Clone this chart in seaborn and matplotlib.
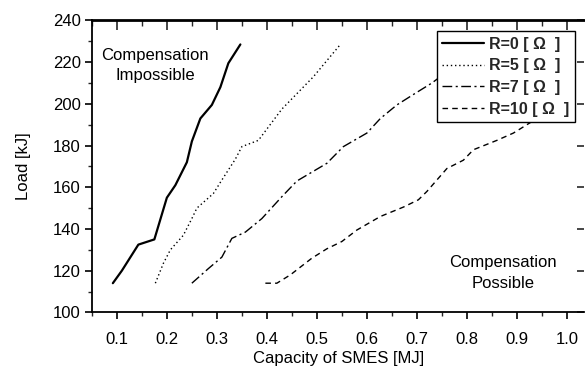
import matplotlib
matplotlib.use("Agg")
import matplotlib.pyplot as plt
import seaborn as sns
import pandas as pd
from matplotlib.ticker import MultipleLocator

sns.set_theme(style="white")
plt.rcParams['font.family'] = ['Liberation Sans', 'DejaVu Sans']

# ---- data ----
r0_x = [0.092, 0.11, 0.143, 0.175, 0.2, 0.217, 0.24, 0.25, 0.267, 0.29, 0.307, 0.323, 0.347]
r0_y = [114, 120, 132.5, 135, 155, 161, 172, 182, 193, 199.5, 208, 219.5, 228.5]
r5_x = [0.177, 0.193, 0.207, 0.233, 0.25, 0.26, 0.293, 0.31, 0.337, 0.35, 0.383, 0.43, 0.493, 0.547]
r5_y = [114, 123.5, 130, 137, 145, 150, 157, 163.5, 173.5, 179.5, 182.5, 197.5, 213, 228.5]
r7_x = [0.25, 0.283, 0.31, 0.33, 0.357, 0.39, 0.43, 0.46, 0.52, 0.553, 0.6, 0.627, 0.66, 0.693, 0.73, 0.78, 0.83]
r7_y = [114, 121, 126.5, 135.5, 138.5, 145, 155.5, 163, 171.5, 179.5, 186, 193, 199.5, 204.5, 210, 219, 228]
r10_x = [0.397, 0.42, 0.447, 0.49, 0.52, 0.55, 0.58, 0.627, 0.673, 0.703, 0.72, 0.76, 0.793, 0.813, 0.86, 0.893, 0.93, 0.98]
r10_y = [114, 114, 118, 126, 130.5, 134, 139.5, 146, 150.5, 154, 158, 169, 173, 178, 182.5, 186, 191.5, 199]
labels = ["R=0 [ \u03a9  ]", "R=5 [ \u03a9  ]", "R=7 [ \u03a9  ]", "R=10 [ \u03a9  ]"]
x_ticks = [0.1, 0.2, 0.3, 0.4, 0.5, 0.6, 0.7, 0.8, 0.9, 1.0]
y_ticks = [100, 120, 140, 160, 180, 200, 220, 240]

series = [(r0_x, r0_y), (r5_x, r5_y), (r7_x, r7_y), (r10_x, r10_y)]
styles = [
    dict(lw=1.6, dashes=None),
    dict(lw=1.0, dashes=(1, 2)),
    dict(lw=1.0, dashes=(7, 2.5, 1.5, 2.5)),
    dict(lw=1.0, dashes=(4, 3)),
]

fig = plt.figure(figsize=(5.85, 3.70), dpi=100)
ax = fig.add_axes([0.157, 0.1557, 0.842, 0.789])

for (xs, ys), lab, st in zip(series, labels, styles):
    df = pd.DataFrame({"x": xs, "y": ys})
    sns.lineplot(data=df, x="x", y="y", ax=ax, color="black",
                 linewidth=st["lw"], label=lab, sort=False)
    l = ax.lines[-1]
    if st["dashes"] is not None:
        l.set_dashes(st["dashes"])

ax.set_xlim(0.05, 1.035)
ax.set_ylim(100, 240)
ax.set_xticks(x_ticks)
ax.set_xticklabels([f"{v:.1f}" for v in x_ticks])
ax.set_yticks(y_ticks)
ax.xaxis.set_minor_locator(MultipleLocator(0.05))
ax.yaxis.set_minor_locator(MultipleLocator(10))

ax.set_xlabel("Capacity of SMES [MJ]", fontsize=12, color="black", labelpad=3)
ax.set_ylabel("Load [kJ]", fontsize=12, color="black", labelpad=16)

ax.tick_params(axis="both", which="major", direction="out", length=5, width=1.2,
               labelsize=12, colors="black", bottom=True, left=True)
ax.tick_params(axis="x", which="major", pad=9)
ax.tick_params(axis="y", which="major", pad=3)
ax.tick_params(axis="both", which="minor", direction="out", length=3, width=1.0,
               bottom=True, left=True)

for s in ["left", "bottom", "top"]:
    ax.spines[s].set_visible(True)
    ax.spines[s].set_color("black")
    ax.spines[s].set_linewidth(1.3)
ax.spines["top"].set_linewidth(2.0)
ax.spines["right"].set_visible(False)

# top / right inward ticks
secx = ax.secondary_xaxis("top")
secx.set_xticks(x_ticks)
secx.xaxis.set_minor_locator(MultipleLocator(0.05))
secx.tick_params(axis="x", which="major", direction="in", length=7, width=1.2, labeltop=False)
secx.tick_params(axis="x", which="minor", direction="in", length=4, width=1.0)
secx.spines["top"].set_visible(False)
secy = ax.secondary_yaxis("right")
secy.set_yticks(y_ticks)
secy.yaxis.set_minor_locator(MultipleLocator(10))
secy.tick_params(axis="y", which="major", direction="in", length=5, width=1.2, labelright=False)
secy.tick_params(axis="y", which="minor", direction="in", length=0, width=1.0)
secy.spines["right"].set_visible(False)

ax.text(0.177, 218.4, "Compensation\nImpossible", ha="center", va="center",
        fontsize=12, color="black", linespacing=1.45)
ax.text(0.873, 118.9, "Compensation\nPossible", ha="center", va="center",
        fontsize=12, color="black", linespacing=1.45)

leg = ax.legend(loc="upper right", bbox_to_anchor=(0.98, 0.964), borderaxespad=0,
                prop=dict(size=11.5, weight="bold"), handlelength=2.6, frameon=True,
                fancybox=False, edgecolor="black", framealpha=1, borderpad=0.35,
                handletextpad=0.3, labelspacing=0.42)
leg.get_frame().set_linewidth(1.0)

fig.savefig("out.png", dpi=100)
